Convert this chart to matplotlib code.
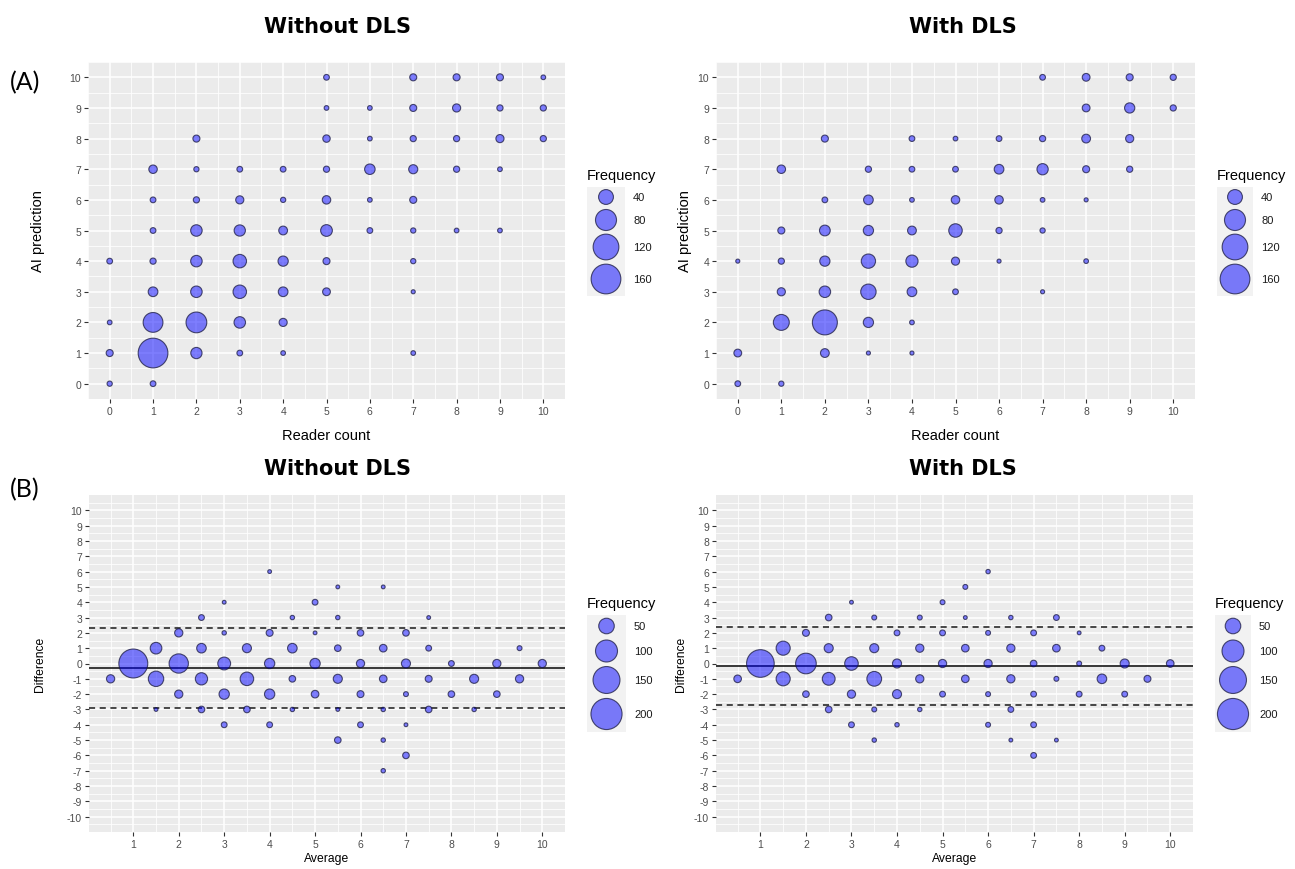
import numpy as np
import matplotlib
matplotlib.use("Agg")
import matplotlib.pyplot as plt
from matplotlib.patches import Rectangle

plt.rcParams['axes.unicode_minus'] = False

W, H = 1295, 870

# ---------------- (A) Without DLS : reader count vs AI prediction ----------------
a1_reader = [5, 7, 8, 9, 10,
             5, 6, 7, 8, 9, 10,
             2, 5, 6, 7, 8, 9, 10,
             1, 2, 3, 4, 5, 6, 7, 8, 9,
             1, 2, 3, 4, 5, 6, 7,
             1, 2, 3, 4, 5, 6, 7, 8, 9,
             0, 1, 2, 3, 4, 5, 7,
             1, 2, 3, 4, 5, 7,
             0, 1, 2, 3, 4,
             0, 1, 2, 3, 4, 7,
             0, 1]
a1_ai = [10] * 5 + [9] * 6 + [8] * 7 + [7] * 9 + [6] * 7 + [5] * 9 + [4] * 7 + [3] * 6 + [2] * 5 + [1] * 6 + [0] * 2
a1_freq = [6, 9, 9, 9, 4,
           4, 4, 9, 12, 7, 7,
           9, 10, 4, 7, 7, 12, 7,
           13, 5, 6, 6, 7, 20, 15, 7, 4,
           6, 7, 12, 5, 13, 4, 9,
           6, 24, 23, 14, 25, 6, 5, 4, 4,
           6, 7, 24, 33, 19, 9, 5,
           17, 24, 33, 17, 11, 3,
           4, 71, 78, 24, 12,
           9, 160, 23, 6, 4, 4,
           5, 6]

# ---------------- (A) With DLS ----------------
a2_reader = [7, 8, 9, 10,
             8, 9, 10,
             2, 4, 5, 6, 7, 8, 9,
             1, 3, 4, 5, 6, 7, 8, 9,
             2, 3, 4, 5, 6, 7, 8,
             1, 2, 3, 4, 5, 6, 7,
             0, 1, 2, 3, 4, 5, 6, 8,
             1, 2, 3, 4, 5, 7,
             1, 2, 3, 4,
             0, 2, 3, 4,
             0, 1]
a2_ai = [10] * 4 + [9] * 3 + [8] * 7 + [7] * 8 + [6] * 7 + [5] * 7 + [4] * 8 + [3] * 6 + [2] * 4 + [1] * 4 + [0] * 2
a2_freq = [6, 11, 9, 7,
           11, 19, 7,
           9, 6, 4, 6, 7, 14, 12,
           13, 7, 6, 6, 17, 23, 9, 7,
           6, 17, 4, 13, 13, 4, 3,
           9, 21, 19, 14, 33, 7, 5,
           3, 7, 19, 37, 27, 12, 3, 4,
           12, 24, 43, 17, 6, 3,
           46, 113, 19, 4,
           11, 14, 3, 3,
           6, 5]

# ---------------- (B) Without DLS : Bland-Altman ----------------
b1_avg = [4,
          5.5, 6.5,
          3, 5,
          2.5, 4.5, 5.5, 7.5,
          2, 3, 4, 5, 6, 7,
          1.5, 2.5, 3.5, 4.5, 5.5, 6.5, 7.5, 9.5,
          1, 2, 3, 4, 5, 6, 7, 8, 9, 10,
          0.5, 1.5, 2.5, 3.5, 4.5, 5.5, 6.5, 7.5, 8.5, 9.5,
          2, 3, 4, 5, 6, 7, 8, 9,
          1.5, 2.5, 3.5, 4.5, 5.5, 6.5, 7.5, 8.5,
          3, 4, 6, 7,
          5.5, 6.5,
          7,
          6.5]
b1_diff = [6] + [5] * 2 + [4] * 2 + [3] * 4 + [2] * 6 + [1] * 8 + [0] * 10 + [-1] * 10 + [-2] * 8 + [-3] * 8 + [-4] * 4 + [-5] * 2 + [-6] + [-7]
b1_freq = [3,
           3, 3,
           3, 7,
           7, 4, 4, 3,
           14, 4, 10, 3, 9, 9,
           28, 19, 17, 19, 9, 12, 7, 5,
           173, 77, 34, 22, 22, 14, 17, 7, 14, 14,
           14, 49, 31, 38, 9, 17, 12, 10, 17, 14,
           14, 22, 22, 12, 10, 5, 9, 9,
           3, 9, 9, 4, 3, 4, 9, 4,
           7, 7, 7, 3,
           9, 4,
           9,
           4]
b1_mean, b1_upper, b1_lower = -0.28, 2.35, -2.91

# ---------------- (B) With DLS ----------------
b2_avg = [6,
          5.5,
          3, 5,
          2.5, 3.5, 4.5, 5.5, 6.5, 7.5,
          2, 4, 5, 6, 7, 8,
          1.5, 2.5, 3.5, 4.5, 5.5, 6.5, 7.5, 8.5,
          1, 2, 3, 4, 5, 6, 7, 8, 9, 10,
          0.5, 1.5, 2.5, 3.5, 4.5, 5.5, 6.5, 7.5, 8.5, 9.5,
          2, 3, 4, 5, 6, 7, 8, 9,
          2.5, 3.5, 4.5, 6.5,
          3, 4, 6, 7,
          3.5, 6.5, 7.5,
          7]
b2_diff = [6] + [5] + [4] * 2 + [3] * 6 + [2] * 6 + [1] * 8 + [0] * 10 + [-1] * 10 + [-2] * 8 + [-3] * 4 + [-4] * 4 + [-5] * 3 + [-6]
b2_freq = [4,
           5,
           3, 5,
           9, 5, 5, 3, 4, 7,
           10, 7, 7, 5, 7, 3,
           41, 17, 17, 14, 12, 14, 12, 7,
           158, 88, 38, 17, 14, 14, 9, 5, 17, 12,
           12, 41, 34, 45, 14, 12, 14, 5, 19, 10,
           9, 14, 17, 7, 5, 7, 7, 7,
           9, 5, 4, 7,
           7, 4, 5, 7,
           4, 3, 3,
           7]
b2_mean, b2_upper, b2_lower = -0.17, 2.39, -2.72

legend_a = [40, 80, 120, 160]
legend_b = [50, 100, 150, 200]

# ------------------------------------------------------------------
KA = (0.72 * 2.35) ** 2
KB = (0.72 * 2.2) ** 2
FACE = (0, 0, 1, 0.5)
EDGE = (0.1, 0.1, 0.25, 0.75)
LW = 0.8
TICKC = '#4D4D4D'
SANS = ['Liberation Sans', 'DejaVu Sans']

fig = plt.figure(figsize=(W / 100, H / 100), dpi=100)


def rect(x0, y0, x1, y1):
    return [x0 / W, 1 - y1 / H, (x1 - x0) / W, (y1 - y0) / H]


def style(ax, xmaj, xmin, ymaj, ymin, xlim, ylim):
    ax.set_facecolor('#EBEBEB')
    for s in ax.spines.values():
        s.set_visible(False)
    ax.set_xlim(*xlim)
    ax.set_ylim(*ylim)
    ax.set_xticks(xmaj)
    ax.set_xticks(xmin, minor=True)
    ax.set_yticks(ymaj)
    ax.set_yticks(ymin, minor=True)
    ax.grid(which='major', color='white', lw=1.1)
    ax.grid(which='minor', color='white', lw=0.55)
    ax.set_axisbelow(True)
    ax.tick_params(which='minor', length=0)
    ax.tick_params(which='major', length=3, width=0.8, color='#333333',
                   labelsize=7.5, labelcolor=TICKC, pad=2)
    for lab in ax.get_xticklabels() + ax.get_yticklabels():
        lab.set_family(SANS)


# (A) panels
for (x0, x1), xs, ys, fs in [((88, 565), a1_reader, a1_ai, a1_freq),
                             ((716, 1195), a2_reader, a2_ai, a2_freq)]:
    ax = fig.add_axes(rect(x0, 63, x1, 400))
    style(ax, np.arange(0, 11), np.arange(-0.5, 10.6, 1.0),
          np.arange(0, 11), np.arange(-0.5, 10.6, 1.0), (-0.5, 10.5), (-0.5, 10.5))
    ax.scatter(xs, ys, s=KA * np.array(fs), facecolor=FACE, edgecolor=EDGE,
               linewidth=LW, zorder=3)

# (B) panels
for (x0, x1), xs, ys, fs, m, up, lo in [((89, 565), b1_avg, b1_diff, b1_freq, b1_mean, b1_upper, b1_lower),
                                         ((716, 1193), b2_avg, b2_diff, b2_freq, b2_mean, b2_upper, b2_lower)]:
    ax = fig.add_axes(rect(x0, 496, x1, 833))
    style(ax, np.arange(1, 11), np.arange(0.5, 10.6, 1.0),
          np.arange(-10, 11), np.arange(-10.5, 10.6, 1.0), (0.025, 10.475), (-11, 11))
    ax.scatter(xs, ys, s=KB * np.array(fs), facecolor=FACE, edgecolor=EDGE,
               linewidth=LW, zorder=3)
    ax.axhline(m, color='#1a1a1a', lw=1.2, zorder=2)
    ax.axhline(up, color='#1a1a1a', lw=1.1, ls=(0, (4, 3)), zorder=2)
    ax.axhline(lo, color='#1a1a1a', lw=1.1, ls=(0, (4, 3)), zorder=2)

# overlay in pixel coordinates for texts and legends
ov = fig.add_axes([0, 0, 1, 1])
ov.set_xlim(0, W)
ov.set_ylim(H, 0)
ov.axis('off')
ov.patch.set_visible(False)

TB = dict(family='DejaVu Sans', weight='bold', fontsize=15, ha='center', va='baseline')
ov.text(337, 33, 'Without DLS', **TB)
ov.text(963, 33, 'With DLS', **TB)
ov.text(337, 475, 'Without DLS', **TB)
ov.text(963, 475, 'With DLS', **TB)
ov.text(10, 90, '(A)', family='Lato', fontsize=18, ha='left', va='baseline')
ov.text(10, 497, '(B)', family='Lato', fontsize=18, ha='left', va='baseline')

LA = dict(family=SANS, fontsize=10.5, color='black')
ov.text(326.5, 440, 'Reader count', ha='center', va='baseline', **LA)
ov.text(955.5, 440, 'Reader count', ha='center', va='baseline', **LA)
ov.text(38, 231.5, 'AI prediction', ha='center', va='center', rotation=90, **LA)
ov.text(685, 231.5, 'AI prediction', ha='center', va='center', rotation=90, **LA)

LB = dict(family=SANS, fontsize=8.7, color='black')
ov.text(327, 862, 'Average', ha='center', va='baseline', **LB)
ov.text(954.5, 862, 'Average', ha='center', va='baseline', **LB)
ov.text(40, 664.5, 'Difference', ha='center', va='center', rotation=90, **LB)
ov.text(681, 664.5, 'Difference', ha='center', va='center', rotation=90, **LB)


def legend(x0, x1, y0, y1, title_y, ys, vals, k):
    ov.add_patch(Rectangle((x0, y0), x1 - x0, y1 - y0, facecolor='#F2F2F2', edgecolor='none'))
    ov.text(x0, title_y, 'Frequency', family=SANS, fontsize=10.5, ha='left', va='center')
    cx = (x0 + x1) / 2
    ov.scatter([cx] * len(vals), ys, s=k * np.array(vals), facecolor=FACE,
               edgecolor=EDGE, linewidth=LW, zorder=3)
    for yy, v in zip(ys, vals):
        ov.text(x1 + 8, yy, str(v), family=SANS, fontsize=8, ha='left', va='center', color='#1a1a1a')


legend(587, 625, 188, 297, 176, [198, 221, 248, 280], legend_a, KA)
legend(1217, 1253, 188, 297, 176, [198, 221, 248, 280], legend_a, KA)
legend(587, 626, 616, 733, 604, [627, 652, 681, 715], legend_b, KB)
legend(1215, 1251, 616, 733, 604, [627, 652, 681, 715], legend_b, KB)

fig.savefig('out.png', dpi=100)
